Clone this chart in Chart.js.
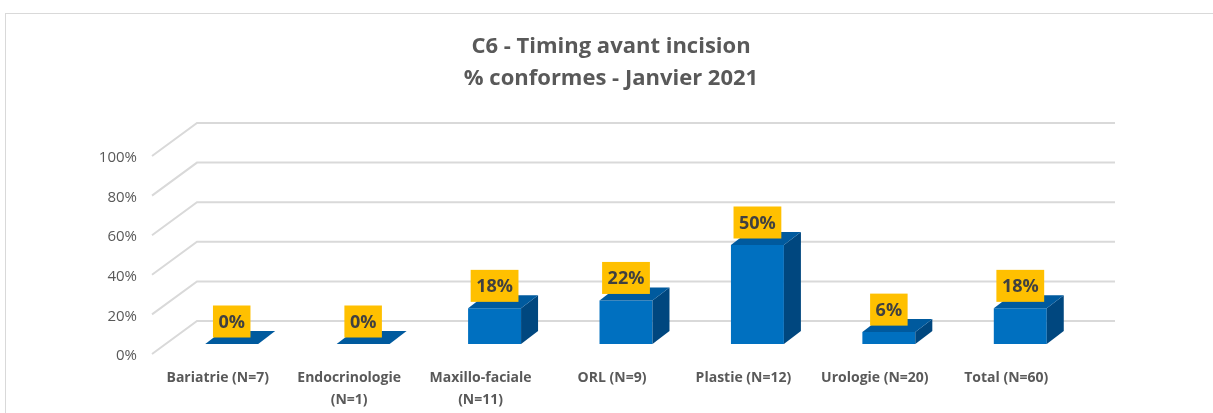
<!DOCTYPE html>
<html>
<head>
<meta charset="utf-8">
<script src="https://cdn.jsdelivr.net/npm/chart.js@4.4.1/dist/chart.umd.min.js"></script>
<style>
  html, body { margin: 0; padding: 0; background: #fff; }
  #wrap { position: relative; width: 1213px; height: 413px; }
</style>
</head>
<body>
<div id="wrap"><canvas id="chart" width="1213" height="413"></canvas></div>
<script>
const categories = [
  'Bariatrie (N=7)',
  ['Endocrinologie', '(N=1)'],
  ['Maxillo-faciale', '(N=11)'],
  'ORL (N=9)',
  'Plastie (N=12)',
  'Urologie (N=20)',
  'Total (N=60)'
];
const conformes = [0, 0, 0.18, 0.22, 0.50, 0.06, 0.18];
const yTickValues = [0, 0.2, 0.4, 0.6, 0.8, 1];
const titleLines = ['C6 - Timing avant incision', '% conformes - Janvier 2021'];

// 3D offsets, in pixels, relative to the plane of the bars' front faces
const WALL_BACK = { dx: 31, dy: -23 };
const WALL_FRONT = { dx: -14, dy: 10 };
const BAR_DEPTH = { dx: 17, dy: -13 };

const FRONT_COLOR = '#0070C0';
const TOP_COLOR = '#005A9E';
const SIDE_COLOR = '#00477F';
const GRID_COLOR = '#d9d9d9';
const TEXT_COLOR = '#595959';

Chart.defaults.font.family = '"Open Sans"';

function poly(ctx, pts, color) {
  ctx.beginPath();
  ctx.moveTo(pts[0][0], pts[0][1]);
  for (let i = 1; i < pts.length; i++) ctx.lineTo(pts[i][0], pts[i][1]);
  ctx.closePath();
  ctx.fillStyle = color;
  ctx.fill();
}

// Frame round the chart, the two title lines, the back wall and the slanted side wall lines
const wallPlugin = {
  id: 'wall',
  beforeDraw(chart) {
    const ctx = chart.ctx;
    ctx.save();
    ctx.strokeStyle = GRID_COLOR;
    ctx.lineWidth = 1;
    ctx.strokeRect(5.5, 13.5, 1400, 600);

    ctx.font = 'bold 22px "Open Sans"';
    ctx.fillStyle = TEXT_COLOR;
    ctx.textAlign = 'center';
    ctx.textBaseline = 'middle';
    titleLines.forEach((line, i) => ctx.fillText(line, 611, 47 + i * 32));
    ctx.restore();
  },
  beforeDatasetsDraw(chart) {
    const { ctx, chartArea: area, scales } = chart;
    ctx.save();
    ctx.strokeStyle = GRID_COLOR;
    ctx.lineWidth = 2;
    yTickValues.forEach((v) => {
      const y = scales.y.getPixelForValue(v);
      const bx = area.left + WALL_BACK.dx;
      const by = y + WALL_BACK.dy;
      ctx.beginPath();
      ctx.moveTo(area.left + WALL_FRONT.dx, y + WALL_FRONT.dy);
      ctx.lineTo(bx, by);
      ctx.lineTo(area.right + WALL_BACK.dx - 2, by);
      ctx.stroke();
    });
    ctx.restore();
  }
};

// Top and side faces of each bar, then the yellow value boxes
const bar3dPlugin = {
  id: 'bar3d',
  afterDatasetsDraw(chart) {
    const ctx = chart.ctx;
    const meta = chart.getDatasetMeta(0);
    ctx.save();
    meta.data.forEach((bar) => {
      const { x, y, base, width } = bar.getProps(['x', 'y', 'base', 'width'], true);
      const l = x - width / 2;
      const r = x + width / 2;
      const { dx, dy } = BAR_DEPTH;
      poly(ctx, [[r, y], [r + dx, y + dy], [r + dx, base + dy], [r, base]], SIDE_COLOR);
      poly(ctx, [[l, y], [r, y], [r + dx, y + dy], [l + dx, y + dy]], TOP_COLOR);
    });

    ctx.font = 'bold 18px "Open Sans"';
    ctx.textAlign = 'center';
    ctx.textBaseline = 'middle';
    meta.data.forEach((bar, i) => {
      const { x, y } = bar.getProps(['x', 'y'], true);
      const text = Math.round(conformes[i] * 100) + '%';
      const w = ctx.measureText(text).width + 11;
      const h = 32;
      const bottom = y - 6.5;
      ctx.fillStyle = '#FFC000';
      ctx.fillRect(x - w / 2, bottom - h, w, h);
      ctx.fillStyle = '#404040';
      ctx.fillText(text, x, bottom - h / 2 + 1);
    });
    ctx.restore();
  }
};

new Chart(document.getElementById('chart'), {
  type: 'bar',
  data: {
    labels: categories,
    datasets: [{
      label: '% conformes',
      data: conformes,
      backgroundColor: FRONT_COLOR,
      borderWidth: 0,
      categoryPercentage: 1,
      barPercentage: 0.403
    }]
  },
  options: {
    responsive: false,
    animation: false,
    layout: { padding: { left: 0, right: 127, top: 146, bottom: 0 } },
    plugins: {
      legend: { display: false },
      tooltip: { enabled: false },
      title: { display: false }
    },
    scales: {
      x: {
        grid: { display: false },
        border: { display: false },
        afterFit: (scale) => { scale.height = 69; },
        ticks: {
          color: TEXT_COLOR,
          font: { size: 14, weight: 'bold', lineHeight: 1.55 },
          padding: 15,
          labelOffset: -14,
          maxRotation: 0,
          autoSkip: false
        }
      },
      y: {
        min: 0,
        max: 1,
        grid: { display: false },
        border: { display: false },
        afterFit: (scale) => { scale.width = 166; },
        afterBuildTicks: (scale) => {
          scale.ticks = yTickValues.map((v) => ({ value: v }));
        },
        ticks: {
          color: TEXT_COLOR,
          font: { size: 15 },
          padding: 21,
          labelOffset: 12,
          callback: (v) => Math.round(v * 100) + '%'
        }
      }
    }
  },
  plugins: [wallPlugin, bar3dPlugin]
});
</script>
</body>
</html>
